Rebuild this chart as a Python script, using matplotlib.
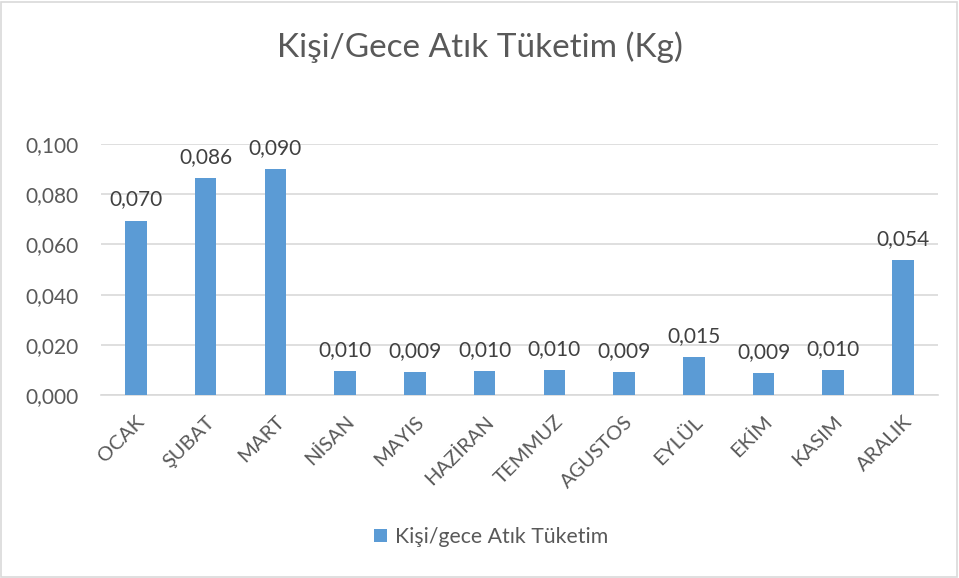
import matplotlib.pyplot as plt
from matplotlib.patches import Rectangle

months = ['OCAK', 'ŞUBAT', 'MART', 'NİSAN', 'MAYIS', 'HAZİRAN',
          'TEMMUZ', 'AGUSTOS', 'EYLÜL', 'EKİM', 'KASIM', 'ARALIK']
values = [0.0695, 0.0863, 0.0899, 0.0096, 0.0092, 0.0096,
          0.0100, 0.0092, 0.0151, 0.0088, 0.0098, 0.0538]
yticks = [0.0, 0.02, 0.04, 0.06, 0.08, 0.10]

plt.rcParams['font.family'] = ['Lato', 'DejaVu Sans']
txt = '#595959'
blue = '#5B9BD5'
grid = '#D9D9D9'

fig = plt.figure(figsize=(9.59, 5.78), dpi=100)
ax = fig.add_axes([0.1053, 0.3166, 0.8727, 0.4343])

x = range(len(months))
bars = ax.bar(x, values, width=0.31, color=blue, zorder=3, label='Kişi/gece Atık Tüketim')

for xi, v in zip(x, values):
    ax.annotate(f'{v:.3f}'.replace('.', ','), (xi, v), xytext=(0, 8), textcoords='offset points',
                ha='center', va='bottom', fontsize=15, color='#404040')

ax.set_xlim(-0.5, len(months) - 0.5)
ax.set_ylim(0, 0.1)
ax.set_yticks(yticks)
ax.set_yticklabels([f'{t:.3f}'.replace('.', ',') for t in yticks], fontsize=15, color=txt)
ax.set_xticks(list(x))
ax.set_xticklabels(months, rotation=45, ha='right', va='top', rotation_mode='anchor',
                   fontsize=14.6, color=txt)
ax.tick_params(axis='both', length=0)
ax.tick_params(axis='x', pad=13)
ax.tick_params(axis='y', pad=16)
ax.grid(axis='y', color=grid, linewidth=1.2, zorder=0)
for s in ['top', 'right', 'left']:
    ax.spines[s].set_visible(False)
ax.spines['bottom'].set_color(grid)
ax.spines['bottom'].set_linewidth(1.2)

fig.text(0.5, 0.918, 'Kişi/Gece Atık Tüketim (Kg)', ha='center', va='center',
         fontsize=24, color=txt)

fig.legend(loc='center', bbox_to_anchor=(0.512, 0.071), frameon=False, fontsize=15.3,
           labelcolor=txt, handlelength=0.6, handleheight=0.6, handletextpad=0.4)

fig.patches.append(Rectangle((0.001, 0.002), 0.997, 0.995, transform=fig.transFigure,
                             fill=False, edgecolor=grid, linewidth=1.2))

fig.savefig('out.png', dpi=100)
